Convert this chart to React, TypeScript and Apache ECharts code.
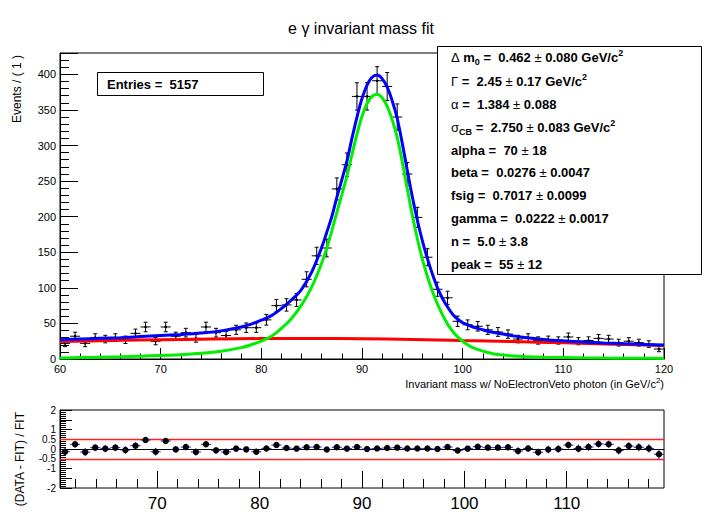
import { useEffect, useRef } from "react"
import * as echarts from "echarts"

const FONT = "'Liberation Sans', Arial, Helvetica, sans-serif"

// bin centres (1 GeV bins) and counts
const binCenters = [
  60.5, 61.5, 62.5, 63.5, 64.5, 65.5, 66.5, 67.5, 68.5, 69.5,
  70.5, 71.5, 72.5, 73.5, 74.5, 75.5, 76.5, 77.5, 78.5, 79.5,
  80.5, 81.5, 82.5, 83.5, 84.5, 85.5, 86.5, 87.5, 88.5, 89.5,
  90.5, 91.5, 92.5, 93.5, 94.5, 95.5, 96.5, 97.5, 98.5, 99.5,
  100.5, 101.5, 102.5, 103.5, 104.5, 105.5, 106.5, 107.5, 108.5, 109.5,
  110.5, 111.5, 112.5, 113.5, 114.5, 115.5, 116.5, 117.5, 118.5, 119.5,
]
const counts = [
  22, 32, 22, 30, 28, 30, 27, 36, 45, 25,
  45, 32, 37, 29, 45, 37, 33, 41, 44, 44,
  55, 75, 76, 83, 112, 145, 156, 239, 273, 369,
  369, 391, 383, 340, 260, 199, 143, 98, 86, 53,
  48, 46, 41, 38, 35, 28, 30, 26, 27, 26,
  31, 25, 26, 29, 28, 23, 25, 23, 21, 14,
]
const residuals = [
  -0.14, 0.24, -0.16, 0.07, 0.02, 0.07, -0.05, 0.17, 0.46, -0.14,
  0.41, -0.02, 0.1, -0.15, 0.24, -0.07, -0.15, 0.02, -0.02, -0.14,
  0.03, 0.2, 0.05, 0.02, 0.09, 0.1, -0.03, 0.09, 0.02, 0.1,
  0.0, 0.03, 0.05, 0.07, 0.03, 0.03, 0.03, 0.0, 0.1, -0.08,
  0.02, 0.12, 0.07, 0.07, 0.09, -0.1, 0.03, -0.17, -0.03, 0.0,
  0.2, 0.02, 0.1, 0.26, 0.24, -0.07, 0.15, 0.09, 0.03, -0.27,
]

// fit curves
const fitX = [
  60, 62, 64, 66, 68, 70, 72, 74, 76, 78,
  79, 80, 81, 82, 83, 84, 85, 86,
  86.5, 87, 87.5, 88, 88.5, 89, 89.5, 90, 90.5, 91, 91.5, 92, 92.5, 93, 93.5, 94, 94.5,
  95, 95.5, 96, 96.5, 97, 97.5, 98, 98.5, 99, 99.5, 100, 100.5, 101,
  102, 103, 104, 105, 106, 108, 110, 112, 114, 116, 118, 120,
]
const totalFit = [
  27, 28, 29, 30, 31.5, 33, 34.5, 36.5, 39.5, 45,
  49, 54.5, 61, 71, 83, 98, 122, 157,
  178, 200, 227, 252, 278, 310, 340, 366, 385, 396, 399, 394, 382, 363, 338, 303, 265,
  228, 195, 166, 141, 119, 100, 85, 73, 63, 56, 51, 48, 45,
  41, 37.5, 35, 32.5, 30.5, 27.5, 25.5, 24, 22.5, 21.5, 20.5, 19.5,
]
const signalFit = [
  1.5, 2, 2.5, 3, 4, 5, 6, 8, 11, 16,
  20, 25, 32, 43, 57, 76, 101, 135,
  156, 180, 206, 231, 257, 287, 316, 341, 359, 369, 372, 367, 355, 336, 311, 277, 239,
  202, 169, 140, 116, 95, 77, 62, 49, 39, 31, 25, 20, 16,
  11, 7.5, 5.5, 4.3, 3.5, 2.5, 2, 1.6, 1.3, 1.1, 1, 0.8,
]
const bkgX = [60, 65, 70, 75, 80, 85, 90, 95, 100, 105, 110, 115, 120]
const bkgFit = [24.5, 26, 27, 28, 28.7, 28.8, 28.5, 27.5, 26, 24.5, 22.7, 20.8, 18.8]

const bottomMajor = [70, 80, 90, 100, 110]
const bottomMinor = [62, 64, 66, 68, 72, 74, 76, 78, 82, 84, 86, 88, 92, 94, 96, 98, 102, 104, 106, 108, 112, 114, 116, 118]

type Frag = [string, string]
const paramLines: Frag[][] = [
  [["g", "Δ"], ["b", " m"], ["sub", "0"], ["b", " =  0.462 "], ["g", "±"], ["b", " 0.080 GeV/c"], ["sup", "2"]],
  [["g", "Γ"], ["b", " =  2.45 "], ["g", "±"], ["b", " 0.17 GeV/c"], ["sup", "2"]],
  [["g", "α"], ["b", " =  1.384 "], ["g", "±"], ["b", " 0.088"]],
  [["g", "σ"], ["sub", "CB"], ["b", " =  2.750 "], ["g", "±"], ["b", " 0.083 GeV/c"], ["sup", "2"]],
  [["b", "alpha =  70 "], ["g", "±"], ["b", " 18"]],
  [["b", "beta =  0.0276 "], ["g", "±"], ["b", " 0.0047"]],
  [["b", "fsig =  0.7017 "], ["g", "±"], ["b", " 0.0099"]],
  [["b", "gamma =  0.0222 "], ["g", "±"], ["b", " 0.0017"]],
  [["b", "n =  5.0 "], ["g", "±"], ["b", " 3.8"]],
  [["b", "peak =  55 "], ["g", "±"], ["b", " 12"]],
]
const paramY = [57, 81, 104, 127, 150, 172, 195, 218, 241, 264]

const rich = {
  b: { fontSize: 13, fontWeight: "bold", fontFamily: FONT, lineHeight: 18, fill: "#000" },
  g: { fontSize: 13, fontWeight: "normal", fontFamily: FONT, lineHeight: 18, fill: "#000" },
  n: { fontSize: 11, fontFamily: FONT, lineHeight: 16, fill: "#000" },
  sup: { fontSize: 9, fontWeight: "bold", fontFamily: FONT, lineHeight: 10, verticalAlign: "top", fill: "#000" },
  sub: { fontSize: 9, fontWeight: "bold", fontFamily: FONT, lineHeight: 10, verticalAlign: "bottom", fill: "#000" },
  nsup: { fontSize: 8, fontFamily: FONT, lineHeight: 8, verticalAlign: "top", fill: "#000" },
}

const toRich = (frags: Frag[]) => frags.map(([k, t]) => `{${k}|${t}}`).join("")

export default function App() {
  const chartRef = useRef<HTMLDivElement>(null)

  useEffect(() => {
    if (!chartRef.current) return
    const chart = echarts.init(chartRef.current, undefined, { renderer: "svg" })

    const black = { color: "#000", width: 1 }

    const option = {
      animation: false,
      backgroundColor: "#fff",
      grid: [
        { left: 60, width: 604, top: 53, height: 306, show: true, borderColor: "#000", borderWidth: 1 },
        { left: 60, width: 604, top: 410, height: 78, show: true, borderColor: "#000", borderWidth: 1 },
      ],
      xAxis: [
        {
          gridIndex: 0, position: "bottom", type: "value", min: 60, max: 120, interval: 10,
          axisLine: { show: true, lineStyle: black },
          axisTick: { inside: true, length: 11, lineStyle: black },
          minorTick: { show: true, splitNumber: 5, length: 5.5, lineStyle: black },
          axisLabel: { fontSize: 11, color: "#000", margin: 4, fontFamily: FONT },
          splitLine: { show: false },
        },
        {
          gridIndex: 1, position: "bottom", type: "value", min: 60, max: 120,
          axisLine: { show: true, lineStyle: black },
          axisTick: { show: false },
          axisLabel: { show: false },
          splitLine: { show: false },
        },
        {
          gridIndex: 1, position: "bottom", type: "value", min: 60.5, max: 119.5,
          axisLine: { show: false },
          axisTick: { show: true, inside: true, length: 17, lineStyle: black, customValues: bottomMajor },
          axisLabel: { show: true, fontSize: 17, color: "#000", margin: 7, fontFamily: FONT, customValues: bottomMajor },
          splitLine: { show: false },
        },
        {
          gridIndex: 1, position: "bottom", type: "value", min: 60.5, max: 119.5,
          axisLine: { show: false },
          axisTick: { show: true, inside: true, length: 9, lineStyle: black, customValues: bottomMinor },
          axisLabel: { show: false, customValues: bottomMinor },
          splitLine: { show: false },
        },
      ],
      yAxis: [
        {
          gridIndex: 0, position: "left", type: "value", min: 0, max: 430, interval: 50,
          axisLine: { show: true, lineStyle: black },
          axisTick: { inside: true, length: 18, lineStyle: black },
          axisLabel: {
            fontSize: 11, color: "#000", margin: 4, fontFamily: FONT,
            formatter: (v: number) => (v % 50 === 0 ? String(v) : ""),
          },
          splitLine: { show: false },
        },
        {
          gridIndex: 0, position: "left", type: "value", min: 0, max: 430, interval: 10,
          axisLine: { show: false },
          axisTick: { inside: true, length: 9, lineStyle: black },
          axisLabel: { show: false },
          splitLine: { show: false },
        },
        {
          gridIndex: 1, position: "left", type: "value", min: -2, max: 2, interval: 0.5,
          axisLine: { show: true, lineStyle: black },
          axisTick: { inside: true, length: 12, lineStyle: black },
          minorTick: { show: true, splitNumber: 5, length: 6, lineStyle: black },
          axisLabel: {
            fontSize: 10, color: "#000", margin: 4, fontFamily: FONT,
            showMinLabel: true, showMaxLabel: true, hideOverlap: false,
          },
          splitLine: { show: false },
        },
      ],
      series: [
        {
          type: "custom",
          xAxisIndex: 0,
          yAxisIndex: 0,
          z: 2,
          data: binCenters.map((x, i) => [x, counts[i]]),
          renderItem: (_params: any, api: any) => {
            const x = api.value(0) as number
            const y = api.value(1) as number
            const e = Math.sqrt(y)
            const c = api.coord([x, y])
            const l = api.coord([x - 0.5, y])
            const r = api.coord([x + 0.5, y])
            const t = api.coord([x, y + e])
            const b = api.coord([x, y - e])
            const style = { stroke: "#000", lineWidth: 1 }
            return {
              type: "group",
              children: [
                { type: "line", shape: { x1: l[0], y1: l[1], x2: r[0], y2: r[1] }, style },
                { type: "line", shape: { x1: t[0], y1: t[1], x2: b[0], y2: b[1] }, style },
                { type: "line", shape: { x1: t[0] - 2, y1: t[1], x2: t[0] + 2, y2: t[1] }, style },
                { type: "line", shape: { x1: b[0] - 2, y1: b[1], x2: b[0] + 2, y2: b[1] }, style },
                { type: "circle", shape: { cx: c[0], cy: c[1], r: 1.3 }, style: { fill: "#000" } },
              ],
            }
          },
        },
        {
          type: "line", xAxisIndex: 0, yAxisIndex: 0, z: 3,
          data: bkgX.map((x, i) => [x, bkgFit[i]]),
          showSymbol: false, smooth: 0.3,
          lineStyle: { color: "#ff0000", width: 3 },
        },
        {
          type: "line", xAxisIndex: 0, yAxisIndex: 0, z: 4,
          data: fitX.map((x, i) => [x, signalFit[i]]),
          showSymbol: false, smooth: 0.35,
          lineStyle: { color: "#00ee00", width: 3 },
        },
        {
          type: "line", xAxisIndex: 0, yAxisIndex: 0, z: 5,
          data: fitX.map((x, i) => [x, totalFit[i]]),
          showSymbol: false, smooth: 0.35,
          lineStyle: { color: "#0000ff", width: 3 },
        },
        {
          type: "custom",
          xAxisIndex: 1,
          yAxisIndex: 2,
          z: 6,
          data: binCenters.map((x, i) => [x, residuals[i], counts[i]]),
          renderItem: (_params: any, api: any) => {
            const x = api.value(0) as number
            const y = api.value(1) as number
            const e = 1 / Math.sqrt(api.value(2) as number)
            const c = api.coord([x, y])
            const l = api.coord([x - 0.5, y])
            const r = api.coord([x + 0.5, y])
            const t = api.coord([x, y + e])
            const b = api.coord([x, y - e])
            const style = { stroke: "#2020e0", lineWidth: 1 }
            return {
              type: "group",
              children: [
                { type: "line", shape: { x1: l[0], y1: l[1], x2: r[0], y2: r[1] }, style },
                { type: "line", shape: { x1: t[0], y1: t[1], x2: b[0], y2: b[1] }, style },
                { type: "circle", shape: { cx: c[0], cy: c[1], r: 3.2 }, style: { fill: "#000" } },
              ],
            }
          },
          markLine: {
            silent: true,
            symbol: "none",
            label: { show: false },
            z: 1,
            data: [
              { yAxis: 0.5, lineStyle: { color: "#ff2020", width: 1.3, type: "solid" } },
              { yAxis: -0.5, lineStyle: { color: "#ff2020", width: 1.3, type: "solid" } },
              { yAxis: 0, lineStyle: { color: "#000", width: 1, type: "solid" } },
            ],
          },
        },
      ],
      graphic: [
        {
          type: "text", left: "center", top: 20, z: 100,
          style: { text: "e γ invariant mass fit", fontSize: 16, fontFamily: FONT, fill: "#000" },
        },
        {
          type: "text", x: 17, y: 55, rotation: Math.PI / 2, z: 100,
          style: { text: "Events / ( 1 )", fontSize: 12, fontFamily: FONT, fill: "#000", align: "right", verticalAlign: "middle" },
        },
        {
          type: "text", x: 20, y: 412, rotation: Math.PI / 2, z: 100,
          style: { text: "(DATA - FIT) / FIT", fontSize: 12, fontFamily: FONT, fill: "#000", align: "right", verticalAlign: "middle" },
        },
        {
          type: "text", x: 664, y: 384, z: 100,
          style: {
            text: "{n|Invariant mass w/ NoElectronVeto photon (in GeV/c}{nsup|2}{n|)}",
            rich, fill: "#000", align: "right", verticalAlign: "middle",
          },
        },
        {
          type: "rect", z: 100,
          shape: { x: 97.5, y: 72.5, width: 166, height: 23 },
          style: { fill: "#fff", stroke: "#000", lineWidth: 1 },
        },
        {
          type: "text", x: 107, y: 84, z: 101,
          style: { text: "Entries =  5157", fontSize: 13, fontWeight: "bold", fontFamily: FONT, fill: "#000", verticalAlign: "middle" },
        },
        {
          type: "rect", z: 100,
          shape: { x: 437.5, y: 46.5, width: 264, height: 228 },
          style: { fill: "#fff", stroke: "#000", lineWidth: 1 },
        },
        ...paramLines.map((frags, i) => ({
          type: "text", x: 451, y: paramY[i], z: 101,
          style: { text: toRich(frags), rich, fill: "#000", verticalAlign: "middle" },
        })),
      ],
    }

    chart.setOption(option as any)

    return () => {
      chart.dispose()
    }
  }, [])

  return (
    <div
      ref={chartRef}
      style={{ position: "absolute", left: 0, top: 0, width: 722, height: 526, background: "#fff" }}
    />
  )
}
